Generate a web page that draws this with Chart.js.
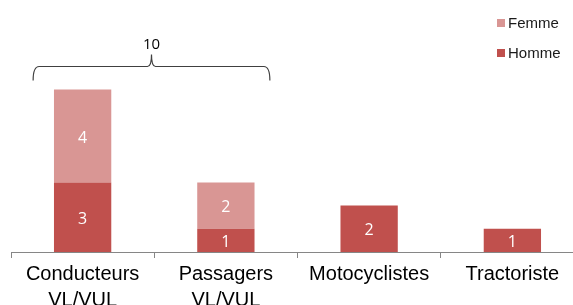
<!DOCTYPE html>
<html>
<head>
<meta charset="utf-8">
<script src="https://cdn.jsdelivr.net/npm/chart.js@4"></script>
<style>
  html, body { margin: 0; padding: 0; background: #fff; overflow: hidden; }
  #wrap { width: 573px; height: 305px; overflow: hidden; }
</style>
</head>
<body>
<div id="wrap"><canvas id="myChart" width="590" height="305"></canvas></div>
<script>
const categories = [["Conducteurs", "VL/VUL"], ["Passagers", "VL/VUL"], "Motocyclistes", "Tractoriste"];
const homme = [3, 1, 2, 1];
const femme = [4, 2, 0, 0];
const braceCategories = [0, 1]; // the brace groups the first two columns

const hommeColor = "#C0504D";
const femmeColor = "#D99694";

// white numbers inside each segment + brace + legend
const decorations = {
  id: "decorations",
  afterDatasetsDraw(chart) {
    const ctx = chart.ctx;
    const xs = chart.scales.x;
    const ys = chart.scales.y;

    ctx.save();
    ctx.font = "16px 'Open Sans'";
    ctx.fillStyle = "#fff";
    ctx.textAlign = "center";
    ctx.textBaseline = "middle";
    chart.data.datasets.forEach((ds, i) => {
      chart.getDatasetMeta(i).data.forEach((bar, j) => {
        const v = ds.data[j];
        if (!v) return;
        ctx.fillText(String(v), bar.x, (bar.y + bar.base) / 2 + 2);
      });
    });

    // brace over first two groups
    let total = 0;
    braceCategories.forEach(c => { total += homme[c] + femme[c]; });
    const x0 = xs.getPixelForValue(braceCategories[0]) - 49.5;
    const x1 = xs.getPixelForValue(braceCategories[braceCategories.length - 1]) + 44;
    const xm = (x0 + x1) / 2;
    const yb = Math.round(ys.getPixelForValue(8)) + 0.5;
    ctx.strokeStyle = "#404040";
    ctx.lineWidth = 1.2;
    ctx.beginPath();
    ctx.moveTo(x0, yb + 14);
    ctx.quadraticCurveTo(x0, yb, x0 + 6, yb);
    ctx.lineTo(xm - 4, yb);
    ctx.quadraticCurveTo(xm, yb, xm, yb - 12);
    ctx.quadraticCurveTo(xm, yb, xm + 4, yb);
    ctx.lineTo(x1 - 6, yb);
    ctx.quadraticCurveTo(x1, yb, x1, yb + 14);
    ctx.stroke();
    ctx.fillStyle = "#000";
    ctx.font = "15px 'Open Sans'";
    ctx.fillText(String(total), xm, yb - 22);

    // legend (Femme above Homme)
    const items = [["Femme", femmeColor, 23], ["Homme", hommeColor, 53]];
    ctx.font = "15px 'Liberation Sans'";
    ctx.textAlign = "left";
    items.forEach(([label, color, y]) => {
      ctx.fillStyle = color;
      ctx.fillRect(497, y - 4, 8, 8);
      ctx.fillStyle = "#1a1a1a";
      ctx.fillText(label, 508, y + 1);
    });
    ctx.restore();
  }
};

new Chart(document.getElementById("myChart"), {
  type: "bar",
  data: {
    labels: categories,
    datasets: [
      { label: "Homme", data: homme, backgroundColor: hommeColor },
      { label: "Femme", data: femme, backgroundColor: femmeColor },
    ],
  },
  options: {
    responsive: false,
    animation: false,
    devicePixelRatio: 1,
    layout: { padding: { top: 20, left: 11, right: 6, bottom: 0 } },
    datasets: { bar: { categoryPercentage: 1, barPercentage: 0.4 } },
    plugins: { legend: { display: false }, tooltip: { enabled: false } },
    scales: {
      x: {
        stacked: true,
        grid: { display: true, drawOnChartArea: false, color: "#868686", tickLength: 6, offset: true },
        border: { color: "#868686" },
        ticks: {
          color: "#000",
          font: { family: "'Liberation Sans'", size: 20, lineHeight: 1.3 },
          padding: 3,
          maxRotation: 0,
          autoSkip: false,
        },
        afterFit(scale) { scale.height = 53; },
      },
      y: { stacked: true, display: false, min: 0, max: 10 },
    },
  },
  plugins: [decorations],
});
</script>
</body>
</html>
